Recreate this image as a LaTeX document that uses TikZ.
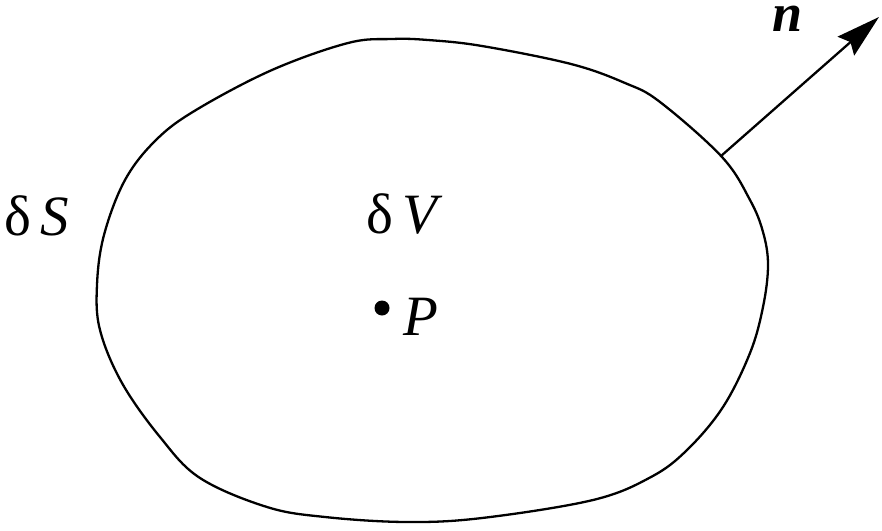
\documentclass[tikz,border=0pt]{standalone}
\usepackage{fontspec}
\setmainfont{Liberation Serif}
\usetikzlibrary{arrows.meta}
\begin{document}
\begin{tikzpicture}[x=1pt,y=-1pt,
  outline/.style={line width=2.3pt,line join=round},
  lbl/.style={font=\fontsize{57}{60}\selectfont,inner sep=0pt,anchor=base west},
  vec/.style={line width=2.3pt,-{Stealth[length=44pt,width=25pt,inset=6pt]}}]
\useasboundingbox[fill=white] (0,0) rectangle (882,530);
\draw[outline] plot[smooth cycle,tension=0.6] coordinates {
 (348,43) (392,39) (428,40) (482,46) (571,64) (625,83) (660,102) (722,157)
 (750,200) (763,232) (768,265) (763,307) (750,353) (723,407) (687,450)
 (651,477) (593,500) (482,518) (406,522) (325,517) (267,507) (200,478)
 (160,437) (122,383) (100,330) (97,285) (104,235) (125,180) (156,140)
 (196,110) (272,70)};
\coordinate (nbase) at (721,156);
\coordinate (ntip) at (879,17);
\draw[vec] (nbase) -- (ntip);
\node[lbl] (dS) at (4,235) {δ\,\textit{S}};
\node[lbl] (dV) at (366,233) {δ\,\textit{V}};
\fill (382,308) circle (7.5) coordinate (Pdot);
\node[lbl] (P) at (403,335) {\textit{P}};
\node[lbl,font=\fontsize{54}{58}\selectfont] (n) at (772,31) {\textbf{\textit{n}}};
\end{tikzpicture}
\end{document}
